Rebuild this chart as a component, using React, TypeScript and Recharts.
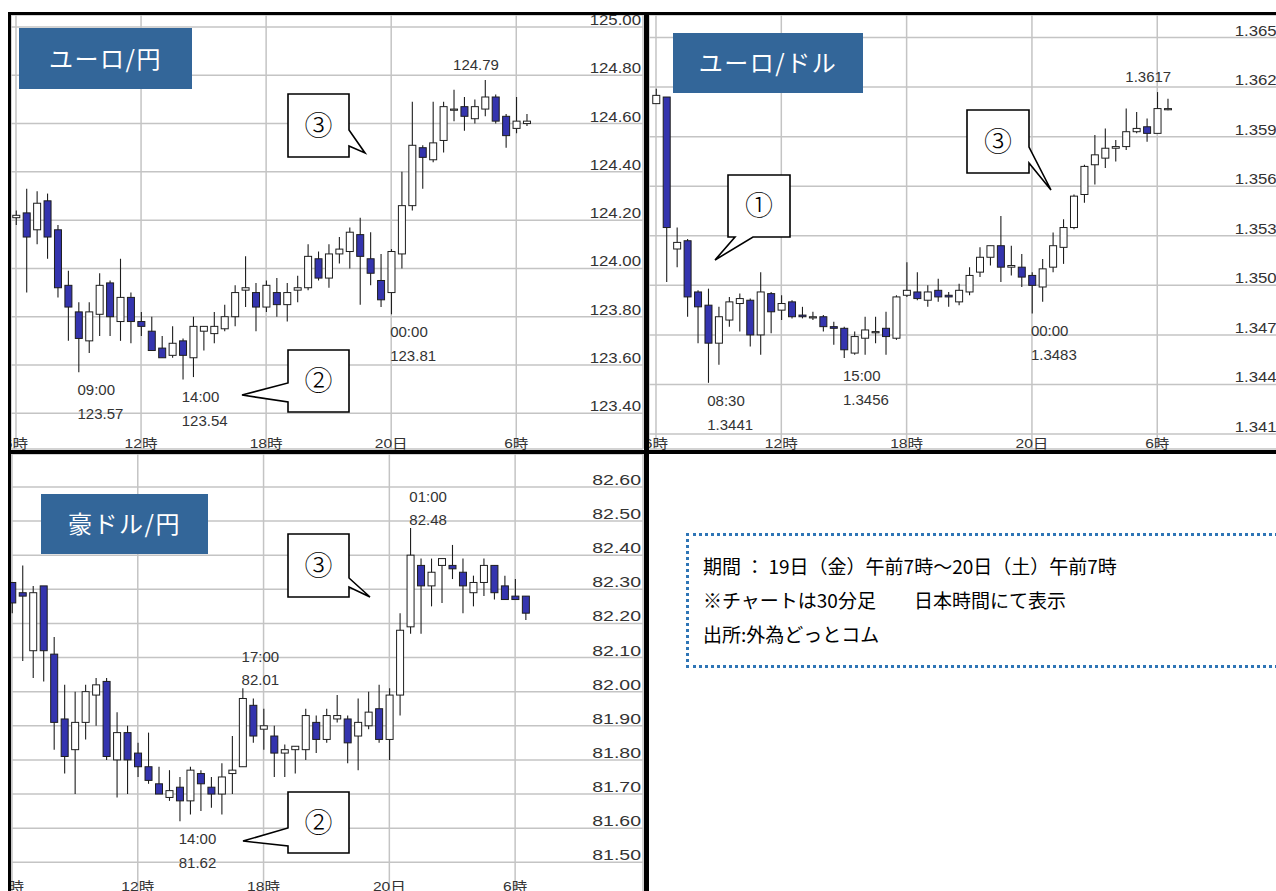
import React from 'react'
import { ComposedChart, Bar, XAxis, YAxis, CartesianGrid, ReferenceDot } from 'recharts'

// 30分足 (19日 06:00 〜 20日 06:30)
const times = [
  '06:00', '06:30', '07:00', '07:30', '08:00', '08:30', '09:00', '09:30', '10:00', '10:30',
  '11:00', '11:30', '12:00', '12:30', '13:00', '13:30', '14:00', '14:30', '15:00', '15:30',
  '16:00', '16:30', '17:00', '17:30', '18:00', '18:30', '19:00', '19:30', '20:00', '20:30',
  '21:00', '21:30', '22:00', '22:30', '23:00', '23:30', '00:00', '00:30', '01:00', '01:30',
  '02:00', '02:30', '03:00', '03:30', '04:00', '04:30', '05:00', '05:30', '06:00', '06:30',
]

const xTicks = [0, 6, 12, 18, 24]
const xTickLabels = ['6時', '12時', '18時', '20日', '6時']

// ユーロ/円
const eurJpyOpen = [124.21, 124.23, 124.16, 124.28, 124.16, 123.93, 123.82, 123.70, 123.81, 123.94, 123.78, 123.88, 123.78, 123.74, 123.67, 123.64, 123.70, 123.63, 123.74, 123.73, 123.75, 123.80, 123.91, 123.90, 123.84, 123.90, 123.85, 123.91, 123.92, 124.04, 123.96, 124.06, 124.07, 124.14, 124.04, 123.95, 123.90, 124.06, 124.26, 124.50, 124.45, 124.53, 124.66, 124.67, 124.62, 124.66, 124.71, 124.63, 124.58, 124.60]
const eurJpyHigh = [124.24, 124.33, 124.32, 124.31, 124.18, 123.99, 123.86, 123.86, 123.98, 123.95, 124.04, 123.90, 123.82, 123.80, 123.72, 123.76, 123.71, 123.80, 123.76, 123.82, 123.85, 123.93, 124.05, 123.94, 123.95, 123.96, 123.94, 123.97, 124.10, 124.07, 124.10, 124.13, 124.17, 124.21, 124.15, 124.06, 124.08, 124.40, 124.69, 124.51, 124.69, 124.69, 124.74, 124.71, 124.70, 124.78, 124.72, 124.64, 124.71, 124.64]
const eurJpyLow = [124.18, 123.90, 124.10, 124.04, 123.88, 123.70, 123.57, 123.65, 123.72, 123.72, 123.70, 123.69, 123.72, 123.66, 123.63, 123.63, 123.54, 123.55, 123.66, 123.69, 123.74, 123.76, 123.84, 123.74, 123.82, 123.80, 123.78, 123.86, 123.91, 123.95, 123.92, 124.02, 124.00, 123.85, 123.93, 123.84, 123.81, 124.00, 124.24, 124.33, 124.44, 124.48, 124.61, 124.57, 124.60, 124.63, 124.60, 124.50, 124.56, 124.59]
const eurJpyClose = [124.22, 124.13, 124.27, 124.13, 123.92, 123.84, 123.71, 123.82, 123.93, 123.80, 123.88, 123.78, 123.76, 123.66, 123.63, 123.69, 123.64, 123.76, 123.76, 123.76, 123.80, 123.90, 123.92, 123.84, 123.93, 123.85, 123.90, 123.92, 124.05, 123.96, 124.06, 124.08, 124.15, 124.05, 123.98, 123.87, 124.07, 124.26, 124.51, 124.46, 124.52, 124.67, 124.66, 124.63, 124.67, 124.71, 124.61, 124.55, 124.61, 124.61]
const eurJpyTicks = [123.2, 123.4, 123.6, 123.8, 124.0, 124.2, 124.4, 124.6, 124.8, 125.0]
const eurJpyNotes = [
  { idx: 6, kind: 'below', text: ['09:00', '123.57'] },
  { idx: 16, kind: 'below', text: ['14:00', '123.54'] },
  { idx: 36, kind: 'below', text: ['00:00', '123.81'] },
  { idx: 45, kind: 'top', text: ['124.79'] },
]

// ユーロ/ドル
const eurUsdOpen = [1.3610, 1.3614, 1.3522, 1.3527, 1.3496, 1.3488, 1.3465, 1.3479, 1.3489, 1.3491, 1.3470, 1.3495, 1.3485, 1.3490, 1.3482, 1.3481, 1.3481, 1.3475, 1.3474, 1.3459, 1.3468, 1.3472, 1.3474, 1.3468, 1.3494, 1.3496, 1.3491, 1.3497, 1.3494, 1.3490, 1.3496, 1.3508, 1.3517, 1.3524, 1.3511, 1.3511, 1.3506, 1.3499, 1.3511, 1.3523, 1.3535, 1.3555, 1.3573, 1.3577, 1.3583, 1.3584, 1.3593, 1.3596, 1.3592, 1.3607]
const eurUsdHigh = [1.3619, 1.3614, 1.3535, 1.3528, 1.3497, 1.3498, 1.3487, 1.3493, 1.3495, 1.3492, 1.3508, 1.3496, 1.3494, 1.3491, 1.3487, 1.3484, 1.3482, 1.3478, 1.3475, 1.3472, 1.3481, 1.3481, 1.3484, 1.3494, 1.3514, 1.3508, 1.3500, 1.3504, 1.3496, 1.3501, 1.3511, 1.3523, 1.3524, 1.3542, 1.3524, 1.3519, 1.3508, 1.3516, 1.3532, 1.3540, 1.3555, 1.3573, 1.3591, 1.3595, 1.3588, 1.3607, 1.3605, 1.3601, 1.3617, 1.3613]
const eurUsdLow = [1.3610, 1.3502, 1.3511, 1.3481, 1.3465, 1.3441, 1.3452, 1.3475, 1.3472, 1.3463, 1.3458, 1.3471, 1.3479, 1.3480, 1.3480, 1.3479, 1.3472, 1.3464, 1.3456, 1.3458, 1.3458, 1.3465, 1.3458, 1.3467, 1.3493, 1.3491, 1.3487, 1.3490, 1.3487, 1.3488, 1.3494, 1.3505, 1.3512, 1.3502, 1.3506, 1.3499, 1.3483, 1.3490, 1.3508, 1.3513, 1.3534, 1.3550, 1.3561, 1.3571, 1.3575, 1.3582, 1.3592, 1.3587, 1.3592, 1.3606]
const eurUsdClose = [1.3615, 1.3535, 1.3526, 1.3493, 1.3487, 1.3465, 1.3481, 1.3490, 1.3492, 1.3470, 1.3496, 1.3484, 1.3489, 1.3481, 1.3481, 1.3481, 1.3475, 1.3474, 1.3461, 1.3469, 1.3473, 1.3472, 1.3469, 1.3493, 1.3497, 1.3492, 1.3496, 1.3493, 1.3493, 1.3497, 1.3506, 1.3517, 1.3524, 1.3511, 1.3512, 1.3505, 1.3500, 1.3510, 1.3524, 1.3535, 1.3554, 1.3572, 1.3579, 1.3583, 1.3584, 1.3593, 1.3595, 1.3592, 1.3607, 1.3607]
const eurUsdTicks = [1.341, 1.344, 1.347, 1.350, 1.353, 1.356, 1.359, 1.362, 1.365]
const eurUsdNotes = [
  { idx: 5, kind: 'below', text: ['08:30', '1.3441'] },
  { idx: 18, kind: 'below', text: ['15:00', '1.3456'] },
  { idx: 36, kind: 'below', text: ['00:00', '1.3483'] },
  { idx: 48, kind: 'top', text: ['1.3617'] },
]

// 豪ドル/円
const audJpyOpen = [82.32, 82.29, 82.12, 82.31, 82.11, 81.92, 81.83, 81.91, 81.99, 82.03, 81.80, 81.88, 81.82, 81.78, 81.73, 81.69, 81.72, 81.68, 81.76, 81.72, 81.70, 81.76, 81.78, 81.96, 81.89, 81.87, 81.82, 81.83, 81.83, 81.91, 81.86, 81.92, 81.92, 81.87, 81.90, 81.95, 81.86, 81.99, 82.19, 82.37, 82.31, 82.37, 82.37, 82.35, 82.29, 82.32, 82.37, 82.31, 82.28, 82.28]
const audJpyHigh = [82.32, 82.37, 82.31, 82.31, 82.16, 82.02, 82.00, 82.02, 82.04, 82.04, 81.94, 81.90, 81.85, 81.88, 81.78, 81.77, 81.75, 81.78, 81.77, 81.75, 81.79, 81.87, 82.01, 81.98, 81.95, 81.90, 81.845, 81.84, 81.95, 81.93, 81.95, 81.99, 81.93, 81.98, 82.00, 82.02, 82.01, 82.23, 82.48, 82.39, 82.39, 82.39, 82.43, 82.39, 82.34, 82.39, 82.37, 82.34, 82.33, 82.28]
const audJpyLow = [82.23, 82.09, 82.04, 82.03, 81.83, 81.76, 81.70, 81.86, 81.90, 81.80, 81.69, 81.70, 81.75, 81.73, 81.70, 81.68, 81.62, 81.64, 81.65, 81.66, 81.64, 81.70, 81.78, 81.85, 81.83, 81.75, 81.75, 81.76, 81.80, 81.82, 81.85, 81.91, 81.79, 81.77, 81.89, 81.85, 81.80, 81.93, 82.17, 82.17, 82.25, 82.26, 82.33, 82.23, 82.25, 82.28, 82.27, 82.27, 82.27, 82.21]
const audJpyClose = [82.26, 82.28, 82.29, 82.12, 81.91, 81.81, 81.91, 82.00, 82.02, 81.81, 81.88, 81.80, 81.78, 81.74, 81.70, 81.71, 81.68, 81.77, 81.73, 81.70, 81.75, 81.77, 81.98, 81.87, 81.90, 81.82, 81.83, 81.84, 81.93, 81.86, 81.93, 81.93, 81.85, 81.91, 81.94, 81.86, 81.99, 82.18, 82.40, 82.31, 82.35, 82.39, 82.36, 82.31, 82.32, 82.37, 82.29, 82.27, 82.27, 82.23]
const audJpyTicks = [81.5, 81.6, 81.7, 81.8, 81.9, 82.0, 82.1, 82.2, 82.3, 82.4, 82.5, 82.6]
const audJpyNotes = [
  { idx: 22, kind: 'above', text: ['17:00', '82.01'] },
  { idx: 16, kind: 'below', text: ['14:00', '81.62'] },
  { idx: 38, kind: 'above', text: ['01:00', '82.48'] },
]

const infoLines = [
  '期間 ： 19日（金）午前7時～20日（土）午前7時',
  '※チャートは30分足　　日本時間にて表示',
  '出所:外為どっとコム',
]

const LATIN = "'Liberation Sans', Arial, 'Noto Sans CJK JP', sans-serif"
const CJK = "'Noto Sans CJK JP', sans-serif"

// hours since 19日 6:00
const toHours = (list: string[]) => {
  let day = 0
  let prev = -1
  return list.map((t) => {
    const [hh, mm] = t.split(':').map(Number)
    let v = hh + mm / 60 + day
    if (v < prev) {
      day += 24
      v += 24
    }
    prev = v
    return v - 6
  })
}
const hours = toHours(times)

const buildRows = (o: number[], h: number[], l: number[], c: number[]) =>
  times.map((t, i) => ({ time: t, hr: hours[i], o: o[i], h: h[i], l: l[i], c: c[i] }))

function Candle(p: any) {
  const { x, y, width, height, payload } = p
  if (x == null || !payload) return null
  const top = Math.min(y, y + height)
  const len = Math.abs(height)
  const span = payload.h - payload.l
  const at = (v: number) => (span > 0 ? top + ((payload.h - v) / span) * len : top)
  const cx = x + width / 2
  const b1 = at(Math.max(payload.o, payload.c))
  const b2 = at(Math.min(payload.o, payload.c))
  const up = payload.c >= payload.o
  return (
    <g>
      <line x1={cx} x2={cx} y1={top} y2={top + len} stroke="#1e1e1e" strokeWidth={1.1} />
      <rect
        x={cx - 3.5}
        y={b1}
        width={7}
        height={Math.max(b2 - b1, 1.2)}
        fill={up ? '#ffffff' : '#3434ae'}
        stroke="#1e1e1e"
        strokeWidth={1}
      />
    </g>
  )
}

const noteShape = (kind: string, lines: string[]) => (p: any) => {
  const { cx, cy } = p
  const st = { fontSize: 15, fill: '#333', fontFamily: LATIN }
  if (kind === 'top') {
    return (
      <text x={cx - 9} y={cy - 10} textAnchor="middle" {...st}>
        {lines[0]}
      </text>
    )
  }
  const ys = kind === 'below' ? [cy + 23, cy + 47] : [cy - 26, cy - 3]
  return (
    <g>
      {lines.map((s, k) => (
        <text key={k} x={cx - 1} y={ys[k]} textAnchor="start" {...st}>
          {s}
        </text>
      ))}
    </g>
  )
}

function Panel(props: any) {
  const { left, top, border, width, height, rows, xDomain, yDomain, yTicks, digits, ySize, ySx, notes } = props
  const yTick = (p: any) => (
    <text
      transform={`translate(${width - 3},${p.y - 2}) scale(${ySx},1)`}
      textAnchor="end"
      fontSize={ySize}
      fill="#333"
      fontFamily={LATIN}
    >
      {Number(p.payload.value).toFixed(digits)}
    </text>
  )
  const xTick = (p: any) => (
    <text
      transform={`translate(${p.x},${height - 2}) scale(1.2,1)`}
      textAnchor="middle"
      fontSize={13}
      fill="#333"
      fontFamily={LATIN}
    >
      {xTickLabels[xTicks.indexOf(p.payload.value)]}
    </text>
  )
  return (
    <div
      style={{
        position: 'absolute',
        left,
        top,
        borderStyle: 'solid',
        borderColor: '#000',
        borderWidth: border,
        background: '#fff',
        width,
        height,
      }}
    >
      <ComposedChart width={width} height={height} data={rows} margin={{ top: 0, right: 0, bottom: 0, left: 0 }}>
        <CartesianGrid stroke="#c4c4c4" strokeWidth={1.5} />
        <XAxis
          type="number"
          dataKey="hr"
          domain={xDomain}
          allowDataOverflow
          ticks={xTicks}
          interval={0}
          height={1}
          axisLine={false}
          tickLine={false}
          tick={xTick}
        />
        <YAxis
          type="number"
          orientation="right"
          domain={yDomain}
          allowDataOverflow
          ticks={yTicks}
          interval={0}
          width={1}
          axisLine={false}
          tickLine={false}
          tick={yTick}
        />
        <Bar dataKey={(d: any) => [d.l, d.h]} barSize={7} shape={(p: any) => <Candle {...p} />} isAnimationActive={false} />
        {notes.map((n: any, k: number) => (
          <ReferenceDot
            key={k}
            x={rows[n.idx].hr}
            y={n.kind === 'below' ? rows[n.idx].l : rows[n.idx].h}
            r={1}
            shape={noteShape(n.kind, n.text)}
          />
        ))}
      </ComposedChart>
    </div>
  )
}

const titles = [
  { x: 19, y: 28, w: 173, h: 61, text: 'ユーロ/円' },
  { x: 673, y: 33, w: 190, h: 60, text: 'ユーロ/ドル' },
  { x: 41, y: 494, w: 167, h: 60, text: '豪ドル/円' },
]

const callouts = [
  { d: 'M288,94 H349 V130 L365,153 L349,146 V157 H288 Z', cx: 318.5, cy: 125.5, t: '③' },
  { d: 'M288,350 H349 V412 H288 V402 L242,395 L288,383 Z', cx: 318.5, cy: 381, t: '②' },
  { d: 'M728,175 H790 V237 H753 L715,260 L735,237 H728 Z', cx: 759, cy: 206, t: '①' },
  { d: 'M967,110 H1029 V147 L1051,190 L1029,163 V173 H967 Z', cx: 998, cy: 141.5, t: '③' },
  { d: 'M288,534 H349 V578 L370,597 L349,587 V597 H288 Z', cx: 318.5, cy: 565.5, t: '③' },
  { d: 'M288,792 H349 V853 H288 V846 L243,841 L288,828 Z', cx: 318.5, cy: 822.5, t: '②' },
]

export default function App() {
  return (
    <div
      style={{
        position: 'absolute',
        left: 0,
        top: 0,
        width: 1276,
        height: 891,
        overflow: 'hidden',
        background: '#fff',
      }}
    >
      <Panel
        left={8}
        top={12}
        border="3px 5px 4px 3px"
        width={633}
        height={435}
        rows={buildRows(eurJpyOpen, eurJpyHigh, eurJpyLow, eurJpyClose)}
        xDomain={[-0.2395, 30.08]}
        yDomain={[123.2521, 125.0496]}
        yTicks={eurJpyTicks.filter((v) => v > 123.3)}
        digits={2}
        ySize={14}
        ySx={1.2}
        notes={eurJpyNotes}
      />
      <Panel
        left={644}
        top={12}
        border="3px 5px 4px 5px"
        width={640}
        height={435}
        rows={buildRows(eurUsdOpen, eurUsdHigh, eurUsdLow, eurUsdClose)}
        xDomain={[-0.3346, 30.26]}
        yDomain={[1.340094, 1.366365]}
        yTicks={eurUsdTicks}
        digits={4}
        ySize={14}
        ySx={1.2}
        notes={eurUsdNotes}
      />
      <Panel
        left={8}
        top={450}
        border="4px 5px 4px 3px"
        width={633}
        height={439}
        rows={buildRows(audJpyOpen, audJpyHigh, audJpyLow, audJpyClose)}
        xDomain={[-0.0476, 30.1]}
        yDomain={[81.4129, 82.6965]}
        yTicks={audJpyTicks}
        digits={2}
        ySize={15}
        ySx={1.3}
        notes={audJpyNotes}
      />

      <svg
        width={1276}
        height={891}
        style={{ position: 'absolute', left: 0, top: 0, pointerEvents: 'none' }}
      >
        {titles.map((b, k) => (
          <g key={k}>
            <rect x={b.x} y={b.y} width={b.w} height={b.h} fill="#336699" />
            <text
              x={b.x + b.w / 2}
              y={b.y + b.h / 2 + 9}
              textAnchor="middle"
              fontSize={24}
              fill="#fff"
              letterSpacing={1.5}
              fontFamily={CJK}
            >
              {b.text}
            </text>
          </g>
        ))}
        {callouts.map((c, k) => (
          <g key={k}>
            <path d={c.d} fill="#fff" stroke="#000" strokeWidth={1.6} strokeLinejoin="miter" />
            <text x={c.cx} y={c.cy + 10} textAnchor="middle" fontSize={28} fill="#000" fontFamily={CJK} fontWeight={300}>
              {c.t}
            </text>
          </g>
        ))}
      </svg>

      <div
        style={{
          position: 'absolute',
          left: 686,
          top: 533,
          width: 700,
          height: 135,
          boxSizing: 'border-box',
          border: '3px dotted #2e75b6',
          padding: '13px 0 0 14px',
          fontFamily: CJK,
          fontSize: 19,
          lineHeight: '34px',
          color: '#000',
          whiteSpace: 'pre',
        }}
      >
        {infoLines.map((s, k) => (
          <div key={k}>{s}</div>
        ))}
      </div>
    </div>
  )
}
